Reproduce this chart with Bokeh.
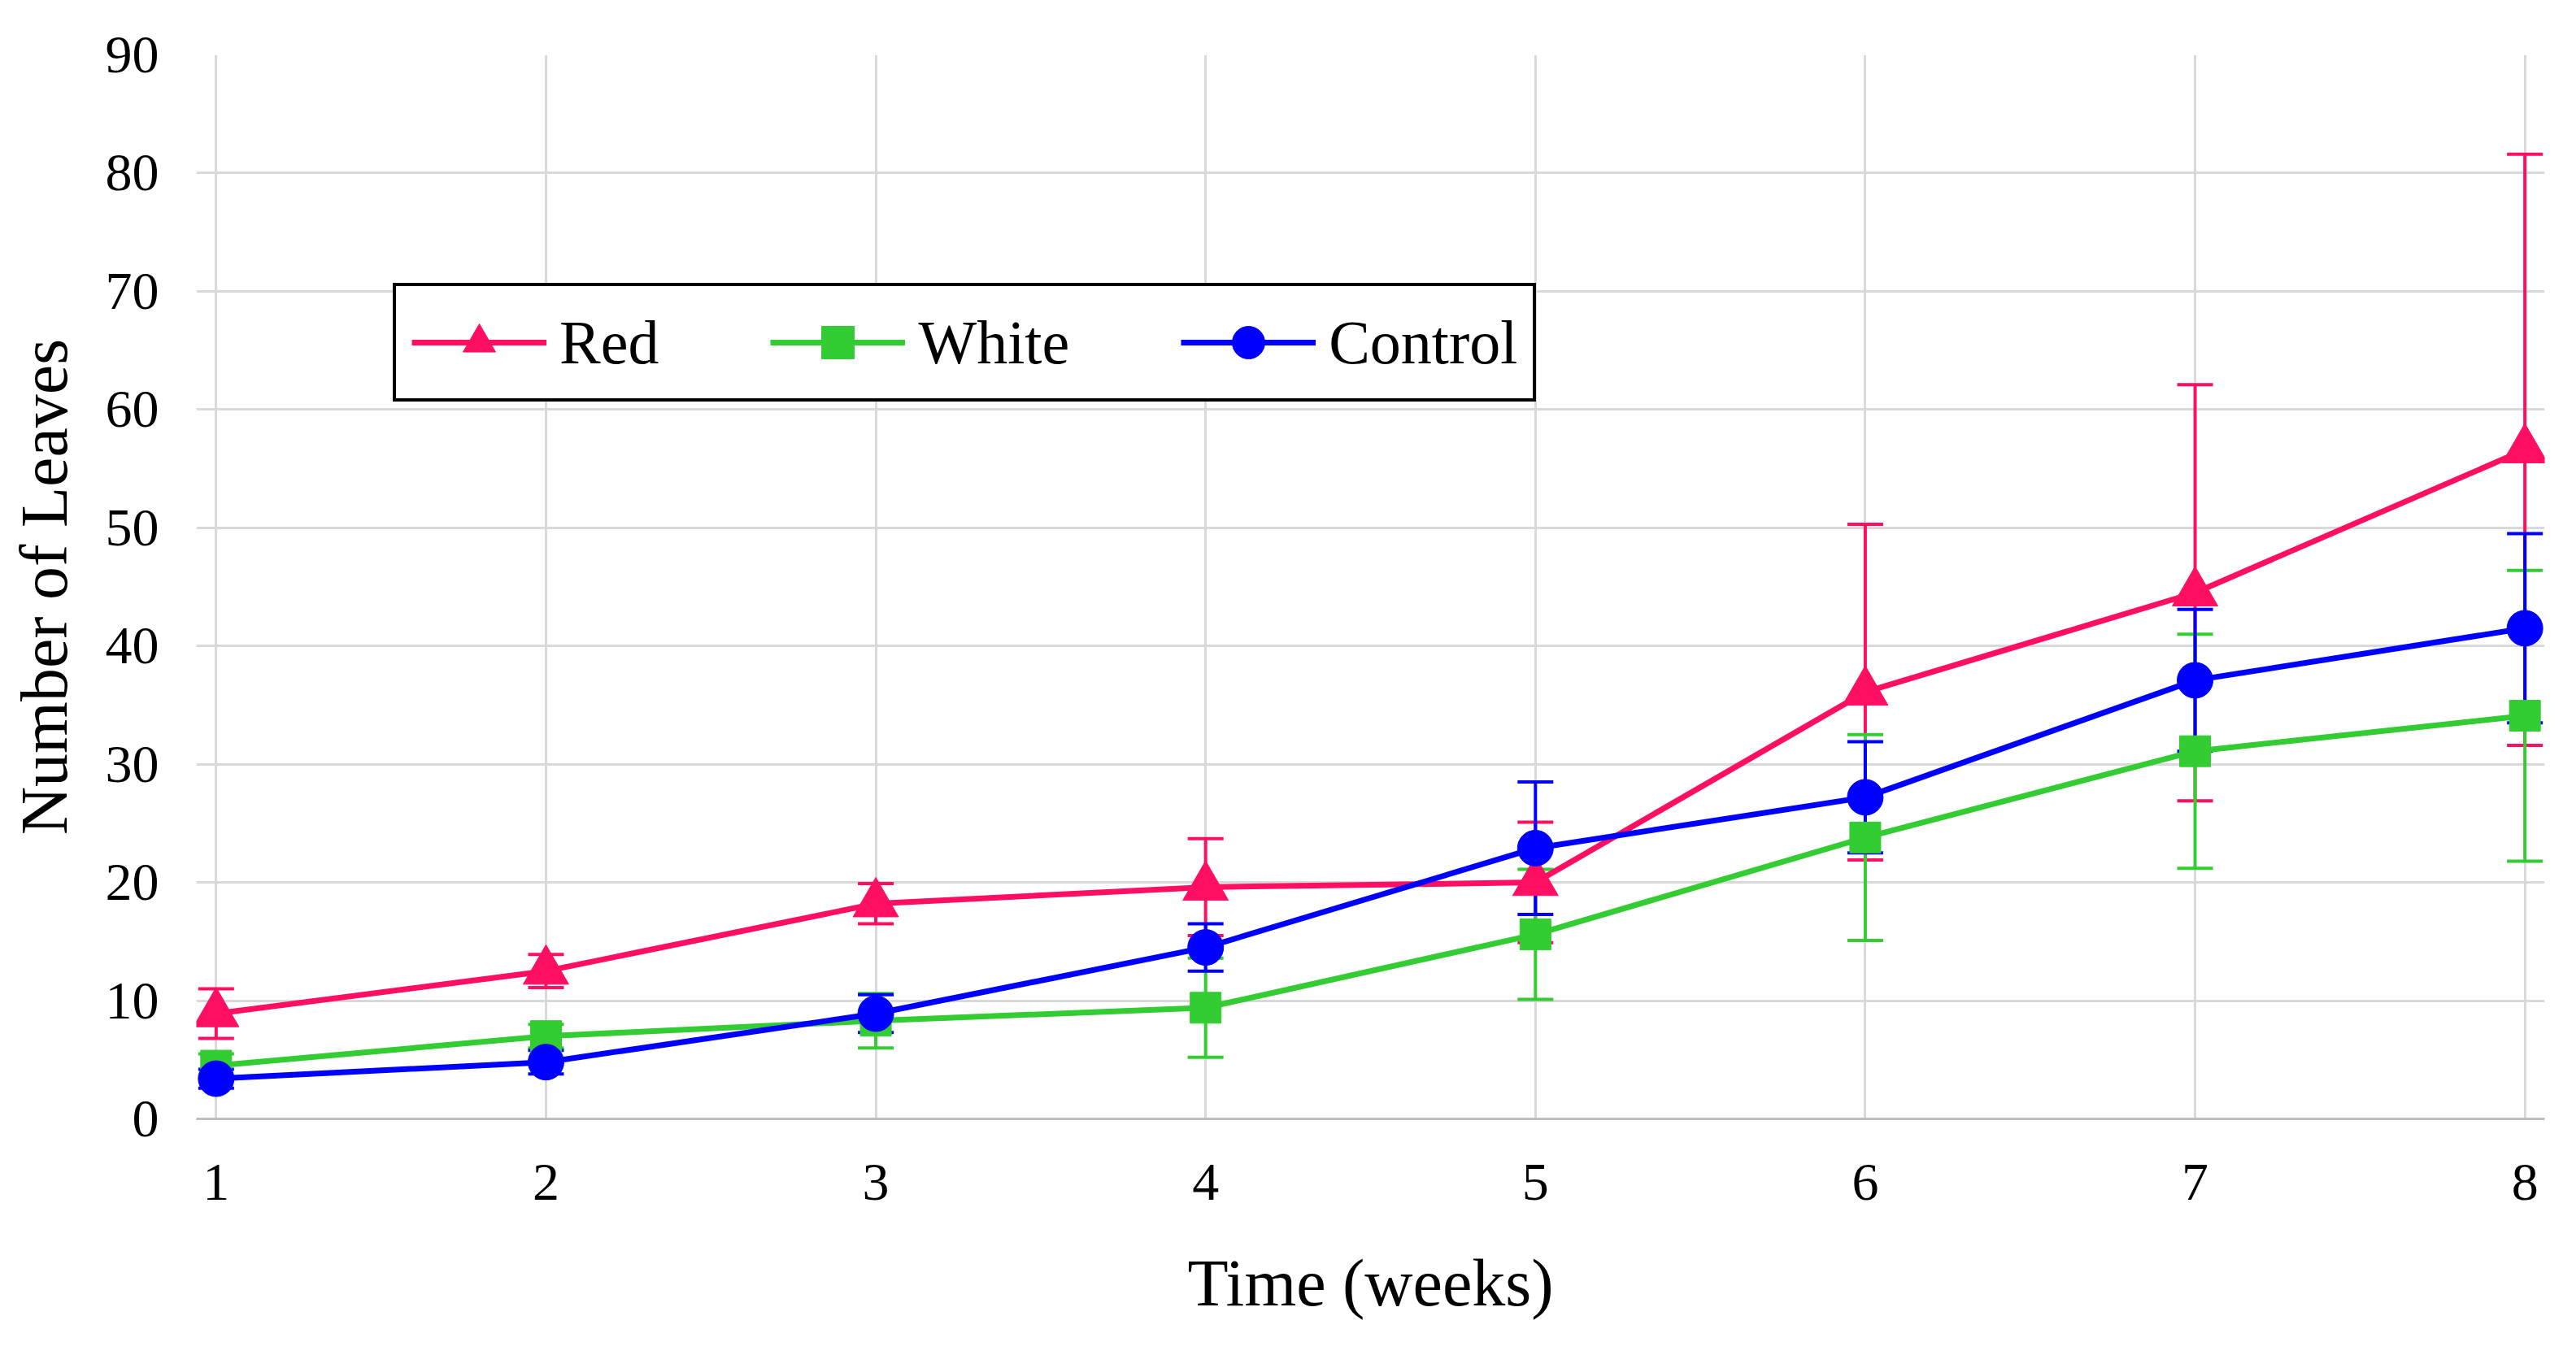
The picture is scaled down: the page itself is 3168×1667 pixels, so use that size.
from bokeh.plotting import figure
from bokeh.models import (ColumnDataSource, Whisker, TeeHead, Legend, LegendItem,
                          Range1d, FixedTicker)
from bokeh.embed import file_html
from bokeh.resources import INLINE

weeks = [1, 2, 3, 4, 5, 6, 7, 8]
red_mean = [8.9, 12.5, 18.2, 19.6, 20.0, 36.1, 44.5, 56.6]
red_err = [2.1, 1.4, 1.7, 4.1, 5.1, 14.2, 17.6, 25.0]
white_mean = [4.5, 7.0, 8.3, 9.4, 15.6, 23.8, 31.1, 34.1]
white_err = [1.0, 1.0, 2.3, 4.2, 5.5, 8.7, 9.9, 12.3]
control_mean = [3.4, 4.8, 8.9, 14.5, 22.9, 27.2, 37.1, 41.5]
control_err = [0.8, 1.0, 1.6, 2.0, 5.6, 4.7, 6.0, 8.0]
y_ticks = [0, 10, 20, 30, 40, 50, 60, 70, 80, 90]

series = [
    ("Red", red_mean, red_err, "#FF0F64", "triangle", 56),
    ("White", white_mean, white_err, "#33CC33", "square", 38),
    ("Control", control_mean, control_err, "#0000FF", "circle", 44),
]

FONT = "Liberation Serif"

p = figure(frame_width=2888, frame_height=1309, output_backend="svg",
           toolbar_location=None, x_range=Range1d(0.94, 8.06), y_range=Range1d(0, 90),
           min_border_left=241, min_border_right=15, min_border_top=67,
           min_border_bottom=275)
p.outline_line_color = None
p.background_fill_color = "white"

p.xaxis.ticker = FixedTicker(ticks=weeks)
p.yaxis.ticker = FixedTicker(ticks=y_ticks)
for ax in (p.xaxis[0], p.yaxis[0]):
    ax.major_tick_line_color = None
    ax.minor_tick_line_color = None
    ax.major_label_text_font = FONT
    ax.major_label_text_font_size = "66px"
    ax.major_label_text_color = "black"
    ax.axis_label_text_font = FONT
    ax.axis_label_text_font_size = "82px"
    ax.axis_label_text_font_style = "normal"
    ax.axis_label_text_color = "black"
p.xaxis.axis_line_color = "#BFBFBF"
p.xaxis.axis_line_width = 3
p.yaxis.axis_line_color = None
p.xaxis.major_label_standoff = 50
p.yaxis.major_label_standoff = 40
p.xaxis.axis_label = "Time (weeks)"
p.yaxis.axis_label = "Number of Leaves"
p.xaxis.axis_label_standoff = 54
p.yaxis.axis_label_standoff = 27

p.xgrid.grid_line_color = "#D9D9D9"
p.ygrid.grid_line_color = "#D9D9D9"
p.xgrid.grid_line_width = 3
p.ygrid.grid_line_width = 3

items = []
for name, mean, err, color, marker, size in series:
    src = ColumnDataSource(dict(
        x=weeks, y=mean,
        lo=[m - e for m, e in zip(mean, err)],
        hi=[m + e for m, e in zip(mean, err)]))
    w = Whisker(source=src, base="x", lower="lo", upper="hi",
                line_color=color, line_width=4,
                upper_head=TeeHead(size=44, line_color=color, line_width=4),
                lower_head=TeeHead(size=44, line_color=color, line_width=4))
    p.add_layout(w)
    ln = p.line("x", "y", source=src, line_color=color, line_width=7)
    sc = p.scatter("x", "y", source=src, marker=marker, size=size,
                   fill_color=color, line_color=color)
    items.append(LegendItem(label=name, renderers=[ln, sc]))

legend = Legend(items=items, orientation="horizontal", location=(242, 882),
                label_text_font=FONT, label_text_font_size="76px",
                label_text_color="black",
                glyph_width=166, glyph_height=100, label_height=100,
                spacing=137, padding=19, margin=0, label_standoff=16,
                border_line_color="black", border_line_width=4,
                border_line_alpha=1.0,
                background_fill_color="white", background_fill_alpha=1.0)
p.add_layout(legend, "center")

open("out.html", "w").write(file_html(p, INLINE))
